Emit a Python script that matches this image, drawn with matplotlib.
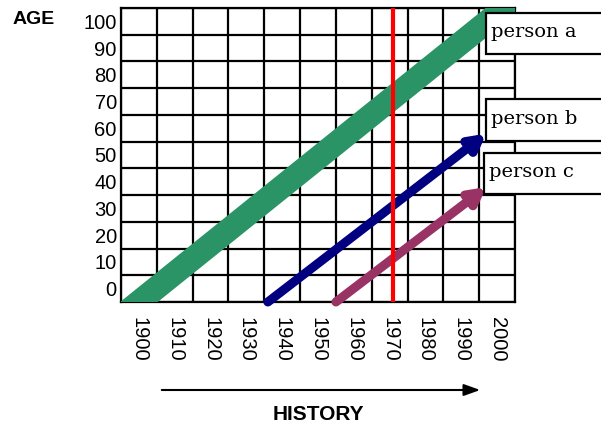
import numpy as np
import matplotlib
matplotlib.use('Agg')
import matplotlib.pyplot as plt
from matplotlib.patches import Rectangle, FancyArrowPatch

# data
years = [1900, 1910, 1920, 1930, 1940, 1950, 1960, 1970, 1980, 1990, 2000]
ages = [0, 10, 20, 30, 40, 50, 60, 70, 80, 90, 100]

people = ['person a', 'person b', 'person c']
start_years = [1900, 1936, 1955]
start_ages = [-5, -5, -5]
end_years = [2002, 1997, 1997]
end_ages = [105, 58, 38]
colors = ['#2b9466', '#000080', '#993366']
now_year = 1971

plt.rcParams['font.family'] = ['Liberation Sans', 'DejaVu Sans']

fig = plt.figure(figsize=(6.01, 4.25), dpi=100)
ax = fig.add_axes([121/601, 1-302/425, 394/601, 294/425])

ax.set_xlim(1895, 2005)
ax.set_ylim(-5, 105)

# grid lines sit between the labels
ax.set_xticks(np.arange(1895, 2006, 10), minor=True)
ax.set_yticks(np.arange(-5, 106, 10), minor=True)
ax.set_xticks(years)
ax.set_yticks(ages)
ax.set_xticklabels([str(y) for y in years], rotation=270)
ax.set_yticklabels([str(a) for a in ages])
ax.tick_params(which='both', length=0, labelsize=14.5)
ax.tick_params(axis='x', pad=11)
ax.tick_params(axis='y', pad=3)
ax.grid(which='minor', color='black', lw=1.6, zorder=1)
ax.grid(which='major', visible=False)
for s in ax.spines.values():
    s.set_linewidth(1.6)

# person a: thick band, extended past the axes so the clip gives flat ends
x0, y0, x1, y1 = start_years[0], start_ages[0], end_years[0], end_ages[0]
k = (y1 - y0) / (x1 - x0)
ax.plot([x0 - 10, x1 + 10], [y0 - 10*k, y1 + 10*k],
        color=colors[0], lw=17, solid_capstyle='butt', zorder=3)

# person b, c: arrows
for i in [1, 2]:
    ax.annotate('', xy=(end_years[i], end_ages[i]),
                xytext=(start_years[i], start_ages[i]),
                arrowprops=dict(arrowstyle='-|>,head_length=0.5,head_width=0.27',
                                color=colors[i], lw=6.5, mutation_scale=18,
                                shrinkA=0, shrinkB=0),
                zorder=4, annotation_clip=False)

ax.axvline(now_year, color='#ff0000', lw=3, zorder=5)

# label boxes
box_pos = [(0.926, 0.8435, 0.14), (0.926, 0.5476, 0.1424), (0.921, 0.367, 0.14)]
for name, (bx, by, bh) in zip(people, box_pos):
    ax.add_patch(Rectangle((bx, by), 0.4, bh, transform=ax.transAxes,
                           facecolor='white', edgecolor='black', lw=1.6,
                           clip_on=False, zorder=6))
    ax.text(bx + 0.014, by + bh/2 + 0.005, name, transform=ax.transAxes,
            family=['DejaVu Serif'], fontsize=14,
            va='center', ha='left', zorder=7)

fig.text(13/601, 1-19/425, 'AGE', fontsize=14, fontweight='bold', va='center')
fig.text(318/601, 1-414/425, 'HISTORY', fontsize=15, fontweight='bold',
         ha='center', va='center')
fig.add_artist(FancyArrowPatch(
    (159/601, 1-390/425), (483/601, 1-390/425), transform=fig.transFigure,
    arrowstyle='-|>,head_length=0.7,head_width=0.25', mutation_scale=14,
    color='black', lw=1.5))

fig.savefig('out.png', dpi=100)
